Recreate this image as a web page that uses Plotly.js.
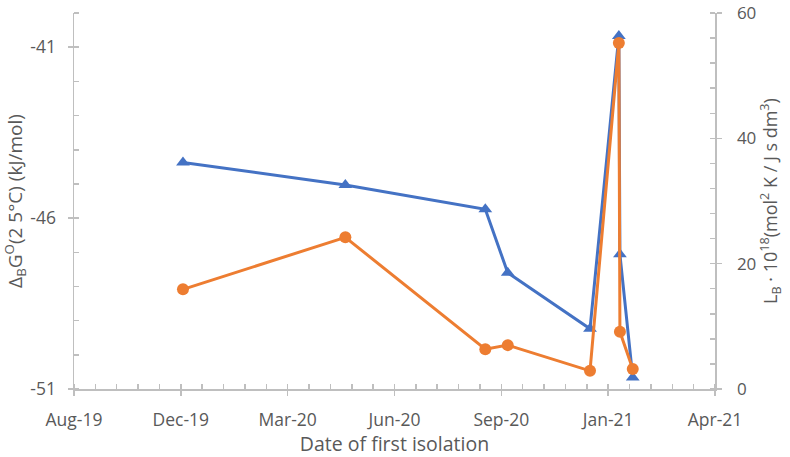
<!DOCTYPE html>
<html>
<head>
<meta charset="utf-8">
<script src="https://cdn.plot.ly/plotly-3.0.1.min.js"></script>
<style>html,body{margin:0;padding:0;background:#fff;}#chart{width:790px;height:457px;}</style>
</head>
<body>
<div id="chart"></div>
<script>
// Data
const isolationDates = ['2019-12-03','2020-05-03','2020-09-11','2020-10-02','2020-12-18','2021-01-14','2021-01-15','2021-01-27'];
const deltaG = [-44.37,-45.03,-45.74,-47.6,-49.24,-40.67,-47.06,-50.66];
const LB = [15.9,24.2,6.35,7.0,2.9,55.2,9.15,3.2];

const xTickVals = ['2019-08-23','2019-12-01','2020-03-10','2020-06-18','2020-09-26','2021-01-04','2021-04-14'];
const xTickText = ['Aug-19','Dec-19','Mar-20','Jun-20','Sep-20','Jan-21','Apr-21'];
const yLeftTicks = [-51,-46,-41];
const yLeftText = ['-51','-46','-41'];
const yRightTicks = [0,20,40,60];
const yRightText = ['0','20','40','60'];

const axisCol = '#BFBFBF';
const txtCol = '#595959';
const fnt = 'Open Sans, Noto Sans, sans-serif';
const tickSize = 17;
const xRange = [xTickVals[0], xTickVals[xTickVals.length-1]];
const yLeftRange = [-51, -39.999];
const yRightRange = [0, 60.001];

const traces = [
  {x: isolationDates, y: deltaG, type:'scatter', mode:'lines+markers', xaxis:'x', yaxis:'y',
   line:{color:'#4472C4', width:3}, marker:{symbol:'triangle-up', size:12, color:'#4472C4'}},
  {x: isolationDates, y: LB, type:'scatter', mode:'lines+markers', xaxis:'x', yaxis:'y2',
   line:{color:'#ED7D31', width:3}, marker:{symbol:'circle', size:12, color:'#ED7D31'}},
  // empty helper traces so the inner half of the cross ticks is drawn
  {x:[null], y:[null], type:'scatter', mode:'markers', xaxis:'x2', yaxis:'y3', hoverinfo:'skip', showlegend:false},
  {x:[null], y:[null], type:'scatter', mode:'markers', xaxis:'x', yaxis:'y4', hoverinfo:'skip', showlegend:false}
];

const innerTick = {ticks:'inside', ticklen:5, tickcolor:axisCol, tickwidth:1.5, showticklabels:false,
  showline:false, showgrid:false, zeroline:false};

const layout = {
  width:790, height:457,
  margin:{l:74, r:75, t:13, b:68},
  paper_bgcolor:'#fff', plot_bgcolor:'#fff',
  showlegend:false,
  font:{family:fnt, color:txtCol, size:tickSize},
  xaxis:{
    type:'date', range:xRange,
    tickmode:'array', tickvals:xTickVals, ticktext:xTickText,
    showline:true, linecolor:axisCol, linewidth:1.5, showgrid:false, zeroline:false,
    ticks:'outside', ticklen:5, tickcolor:axisCol, tickwidth:1.5,
    tickfont:{size:17.5, color:txtCol}, ticklabelstandoff:9, ticklabeloverflow:'allow',
    minor:{tick0:xTickVals[0], dtick:20*86400000, ticks:'inside', ticklen:5, tickcolor:axisCol, tickwidth:1.5},
    title:{text:'Date of first isolation', font:{size:19.5, color:txtCol}, standoff:12}
  },
  xaxis2: Object.assign({type:'date', overlaying:'x', anchor:'y', side:'bottom', range:xRange,
    tickmode:'array', tickvals:xTickVals}, innerTick),
  yaxis:{
    range:yLeftRange, tickmode:'array', tickvals:yLeftTicks, ticktext:yLeftText,
    showline:true, linecolor:axisCol, linewidth:1.5, showgrid:false, zeroline:false,
    ticks:'outside', ticklen:5, tickcolor:axisCol, tickwidth:1.5,
    tickfont:{size:17.5, color:txtCol}, ticklabelstandoff:8, ticklabeloverflow:'allow',
    minor:{tick0:-51, dtick:1, ticks:'inside', ticklen:5, tickcolor:axisCol, tickwidth:1.5},
    title:{text:'Δ<sub>B</sub>G<sup>O</sup>(2 5°C) (kJ/mol)', font:{size:19, color:txtCol}, standoff:2}
  },
  yaxis3: Object.assign({overlaying:'y', anchor:'x', side:'left', range:yLeftRange,
    tickmode:'array', tickvals:yLeftTicks}, innerTick),
  yaxis2:{
    overlaying:'y', side:'right', anchor:'x',
    range:yRightRange, tickmode:'array', tickvals:yRightTicks, ticktext:yRightText,
    showline:true, linecolor:axisCol, linewidth:1.5, showgrid:false, zeroline:false,
    ticks:'outside', ticklen:5, tickcolor:axisCol, tickwidth:1.5,
    tickfont:{size:tickSize, color:txtCol}, ticklabelstandoff:12, ticklabeloverflow:'allow',
    minor:{tick0:0, dtick:4, ticks:'inside', ticklen:5, tickcolor:axisCol, tickwidth:1.5},
    title:{text:'L<sub>B</sub> · 10<sup>18</sup>(mol<sup>2</sup> K / J s dm<sup>3</sup>)', font:{size:18, color:txtCol}, standoff:8}
  },
  yaxis4: Object.assign({overlaying:'y', anchor:'x', side:'right', range:yRightRange,
    tickmode:'array', tickvals:yRightTicks}, innerTick)
};

Plotly.newPlot('chart', traces, layout, {displayModeBar:false, staticPlot:true});
</script>
</body>
</html>
